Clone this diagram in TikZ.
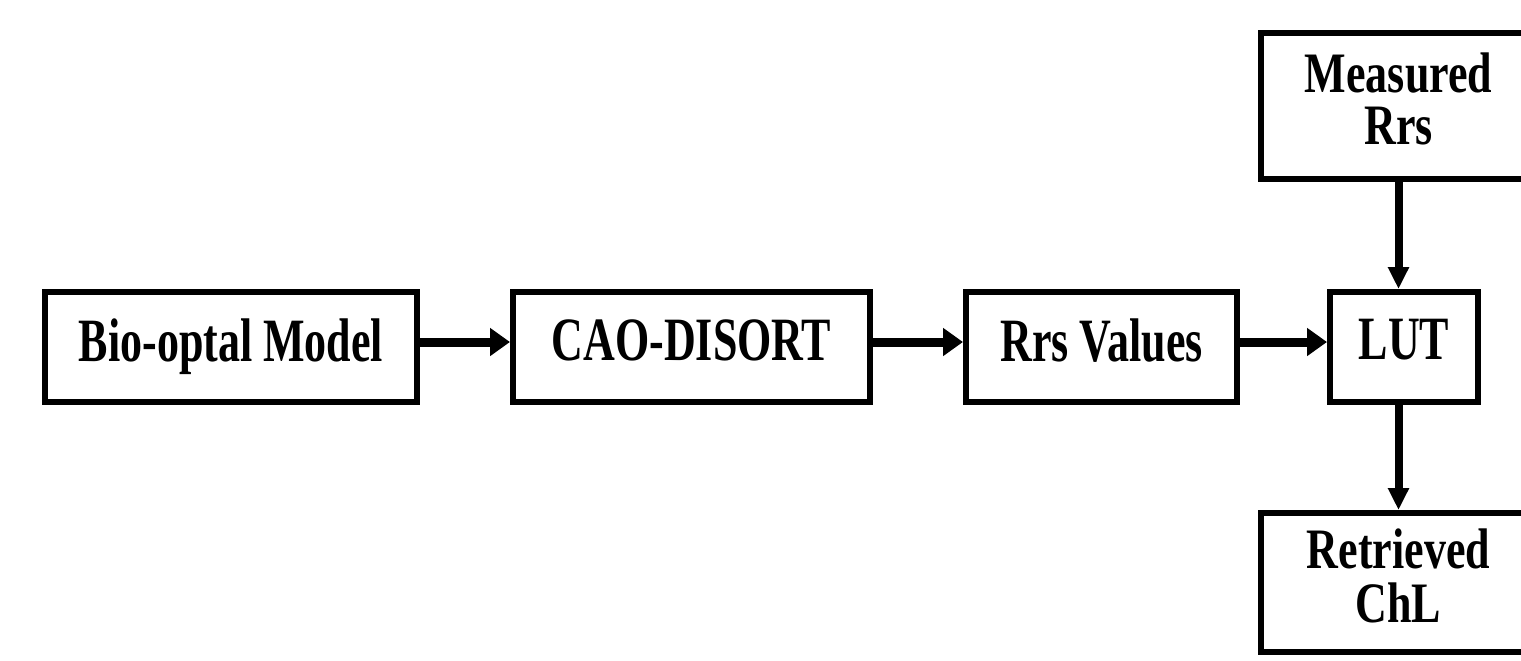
\documentclass[tikz,border=0pt]{standalone}
\usepackage{fontspec}
\usepackage{graphicx}
\setmainfont{Liberation Serif}
\usetikzlibrary{arrows.meta}
\newcommand{\stt}[1]{\scalebox{1}[1.4]{\begin{tabular}{@{}c@{}}#1\end{tabular}}}
\newcommand{\sttw}[1]{\scalebox{1}[1.3]{\fontsize{22}{18.5}\selectfont\begin{tabular}{@{}c@{}}#1\end{tabular}}}
\begin{document}
\begin{tikzpicture}[x=0.5pt,y=-0.5pt,
  box/.style={draw, line width=3pt, inner sep=0pt, align=center,
    font=\fontsize{22}{17.5}\selectfont\bfseries},
  harr/.style={line width=4.5pt, -{Triangle[length=10pt,width=13.5pt]}},
  varr/.style={line width=4pt, -{Triangle[length=11pt,width=10pt]}}]
\fill[white] (0,0) rectangle (1521,660);
\useasboundingbox (0,0) rectangle (1521,660);
\clip (0,0) rectangle (1521,660);
\node[box, minimum width=186pt, minimum height=55pt] (bio) at (231,347) {\stt{Bio-optal Model}};
\node[box, minimum width=178.5pt, minimum height=55pt] (cao) at (691.5,347) {\stt{CAO-DISORT}};
\node[box, minimum width=135.5pt, minimum height=55pt] (rrs) at (1101.5,347) {\stt{Rrs Values}};
\node[box, minimum width=74pt, minimum height=55pt] (lut) at (1404,347) {\stt{LUT}};
\node[box, minimum width=137.5pt, minimum height=73pt] (meas) at (1398.5,106) {\sttw{Measured\\Rrs}};
\node[box, minimum width=137.5pt, minimum height=69.5pt] (ret) at (1398.5,582.5) {\sttw{Retrieved\\ChL}};
\draw[harr] ([yshift=2.5pt]bio.east) -- ([yshift=2.5pt]cao.west);
\draw[harr] ([yshift=2.5pt]cao.east) -- ([yshift=2.5pt]rrs.west);
\draw[harr] ([yshift=2.5pt]rrs.east) -- ([yshift=2.5pt]lut.west);
\draw[varr] (meas.south) -- (meas.south |- lut.north);
\draw[varr] (meas.south |- lut.south) -- (meas.south |- ret.north);
\end{tikzpicture}
\end{document}
